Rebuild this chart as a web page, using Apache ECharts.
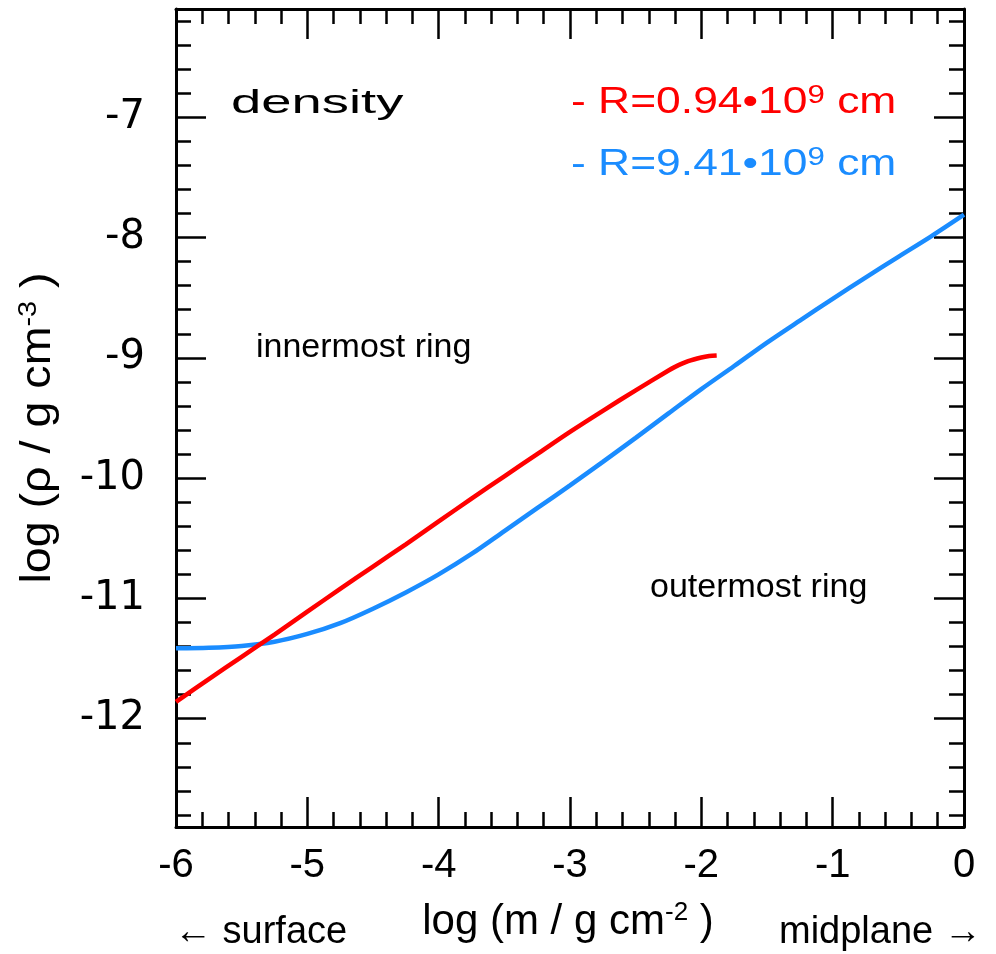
<!DOCTYPE html>
<html>
<head>
<meta charset="utf-8">
<script src="https://cdn.jsdelivr.net/npm/echarts@6/dist/echarts.min.js"></script>
<style>
html, body { margin: 0; padding: 0; background: #ffffff; }
#chart { width: 996px; height: 954px; }
</style>
</head>
<body>
<div id="chart"></div>
<script>
// ---- data ----
const xMajorTicks = [-6, -5, -4, -3, -2, -1, 0];
const yMajorTicks = [-12, -11, -10, -9, -8, -7];
const yMinorTicks = [-12.8, -12.6, -12.4, -12.2, -11.8, -11.6, -11.4, -11.2,
  -10.8, -10.6, -10.4, -10.2, -9.8, -9.6, -9.4, -9.2, -8.8, -8.6, -8.4, -8.2,
  -7.8, -7.6, -7.4, -7.2, -6.8, -6.6, -6.4, -6.2];

// innermost ring, R = 0.94e9 cm
const redX = [-6.0, -5.75, -5.5, -5.25, -5.0, -4.75, -4.5, -4.25, -4.0, -3.75, -3.5,
  -3.25, -3.0, -2.75, -2.5, -2.25, -2.2, -2.1, -2.0, -1.94, -1.883];
const redY = [-11.86, -11.67, -11.485, -11.30, -11.11, -10.92, -10.735, -10.55, -10.36,
  -10.17, -9.985, -9.80, -9.615, -9.44, -9.27, -9.105, -9.075, -9.028, -8.997, -8.985, -8.98];

// outermost ring, R = 9.41e9 cm
const blueX = [-6.0, -5.75, -5.5, -5.25, -5.0, -4.75, -4.5, -4.25, -4.0, -3.75, -3.5,
  -3.25, -3.0, -2.75, -2.5, -2.25, -2.0, -1.75, -1.5, -1.25, -1.0, -0.75, -0.5, -0.25, 0.0];
const blueY = [-11.415, -11.41, -11.395, -11.36, -11.295, -11.205, -11.085, -10.95, -10.80,
  -10.63, -10.44, -10.25, -10.06, -9.865, -9.665, -9.462, -9.26, -9.068, -8.873, -8.69, -8.51,
  -8.333, -8.16, -7.99, -7.81];

const xRange = [-6, 0];
const yRange = [-12.9, -6.1];

const seriesNames = ['R=0.94•10⁹ cm', 'R=9.41•10⁹ cm'];
const RED = '#ff0000';
const BLUE = '#1a8cff';
const FONT = "'Liberation Sans', Arial, Helvetica, sans-serif";
const FONT_Y = "'DejaVu Sans', 'Liberation Sans', sans-serif";

function zip(xs, ys) { return xs.map((x, i) => [x, ys[i]]); }

const chart = echarts.init(document.getElementById('chart'), null, { renderer: 'canvas' });

const lineStyleAxis = { color: '#000', width: 3 };
const tickStyle = { color: '#000', width: 2.5 };

const option = {
  backgroundColor: '#ffffff',
  animation: false,
  grid: { left: 176, right: 32, top: 9, bottom: 127, containLabel: false },
  xAxis: [
    {
      type: 'value', position: 'bottom', min: xRange[0], max: xRange[1], interval: 1,
      axisLine: { show: true, onZero: false, lineStyle: lineStyleAxis },
      axisTick: { show: true, inside: true, length: 30, lineStyle: tickStyle, customValues: xMajorTicks },
      minorTick: { show: true, splitNumber: 5, length: 15, lineStyle: tickStyle },
      splitLine: { show: false }, minorSplitLine: { show: false },
      axisLabel: { show: true, margin: 19, fontSize: 40, color: '#000', fontFamily: FONT,
        customValues: xMajorTicks, formatter: v => String(v) }
    },
    {
      type: 'value', position: 'top', min: xRange[0], max: xRange[1], interval: 1,
      axisLine: { show: true, onZero: false, lineStyle: lineStyleAxis },
      axisTick: { show: true, inside: true, length: 30, lineStyle: tickStyle },
      minorTick: { show: true, splitNumber: 5, length: 15, lineStyle: tickStyle },
      splitLine: { show: false }, axisLabel: { show: false }
    }
  ],
  yAxis: [
    {
      type: 'value', position: 'left', min: yRange[0], max: yRange[1],
      axisLine: { show: true, onZero: false, lineStyle: lineStyleAxis },
      axisTick: { show: true, inside: true, length: 30, lineStyle: tickStyle, customValues: yMajorTicks },
      splitLine: { show: false },
      axisLabel: { show: true, margin: 31, fontSize: 40, color: '#000', fontFamily: FONT_Y,
        customValues: yMajorTicks, formatter: v => String(v) }
    },
    {
      type: 'value', position: 'left', min: yRange[0], max: yRange[1],
      axisLine: { show: false, onZero: false },
      axisTick: { show: true, inside: true, length: 15, lineStyle: tickStyle, customValues: yMinorTicks },
      splitLine: { show: false }, axisLabel: { show: false }
    },
    {
      type: 'value', position: 'right', min: yRange[0], max: yRange[1],
      axisLine: { show: true, onZero: false, lineStyle: lineStyleAxis },
      axisTick: { show: true, inside: true, length: 30, lineStyle: tickStyle, customValues: yMajorTicks },
      splitLine: { show: false }, axisLabel: { show: false }
    },
    {
      type: 'value', position: 'right', min: yRange[0], max: yRange[1],
      axisLine: { show: false, onZero: false },
      axisTick: { show: true, inside: true, length: 15, lineStyle: tickStyle, customValues: yMinorTicks },
      splitLine: { show: false }, axisLabel: { show: false }
    }
  ],
  series: [
    {
      name: seriesNames[0], type: 'line', xAxisIndex: 0, yAxisIndex: 0,
      data: zip(redX, redY), showSymbol: false, smooth: 0.3,
      lineStyle: { color: RED, width: 4.5 }, itemStyle: { color: RED }, z: 3
    },
    {
      name: seriesNames[1], type: 'line', xAxisIndex: 0, yAxisIndex: 0,
      data: zip(blueX, blueY), showSymbol: false, smooth: 0.3,
      lineStyle: { color: BLUE, width: 4.5 }, itemStyle: { color: BLUE }, z: 2
    }
  ],
  graphic: [
    { type: 'text', x: 231, y: 104, scaleX: 1.6,
      style: { text: 'density', fill: '#000', fontSize: 34, fontFamily: FONT,
        align: 'left', verticalAlign: 'middle', textAlign: 'left', textVerticalAlign: 'middle' } },
    { type: 'text', x: 571, y: 103, scaleX: 1.2,
      style: { text: '- R=0.94•10{sup|9} cm', fill: RED, fontSize: 37, fontFamily: FONT, lineHeight: 40,
        align: 'left', verticalAlign: 'middle', textAlign: 'left', textVerticalAlign: 'middle',
        rich: { sup: { fontSize: 26, fill: RED, fontFamily: FONT, verticalAlign: 'top', lineHeight: 16 } } } },
    { type: 'text', x: 571, y: 165, scaleX: 1.2,
      style: { text: '- R=9.41•10{sup|9} cm', fill: BLUE, fontSize: 37, fontFamily: FONT, lineHeight: 40,
        align: 'left', verticalAlign: 'middle', textAlign: 'left', textVerticalAlign: 'middle',
        rich: { sup: { fontSize: 26, fill: BLUE, fontFamily: FONT, verticalAlign: 'top', lineHeight: 16 } } } },
    { type: 'text', x: 256, y: 348,
      style: { text: 'innermost ring', fill: '#000', fontSize: 34, fontFamily: FONT,
        align: 'left', verticalAlign: 'middle', textAlign: 'left', textVerticalAlign: 'middle' } },
    { type: 'text', x: 650, y: 588,
      style: { text: 'outermost ring', fill: '#000', fontSize: 34, fontFamily: FONT,
        align: 'left', verticalAlign: 'middle', textAlign: 'left', textVerticalAlign: 'middle' } },
    { type: 'text', x: 568, y: 922,
      style: { text: 'log (m / g cm{sup|-2} )', fill: '#000', fontSize: 42, fontFamily: FONT, lineHeight: 44,
        align: 'center', verticalAlign: 'middle', textAlign: 'center', textVerticalAlign: 'middle',
        rich: { sup: { fontSize: 26, fill: '#000', fontFamily: FONT, verticalAlign: 'top', lineHeight: 20 } } } },
    { type: 'text', x: 38, y: 428, rotation: Math.PI / 2, scaleX: 1.11,
      style: { text: 'log (ρ / g cm{sup|-3} )', fill: '#000', fontSize: 42, fontFamily: FONT, lineHeight: 44,
        align: 'center', verticalAlign: 'middle', textAlign: 'center', textVerticalAlign: 'middle',
        rich: { sup: { fontSize: 26, fill: '#000', fontFamily: FONT, verticalAlign: 'top', lineHeight: 20 } } } },
    { type: 'text', x: 174, y: 933,
      style: { text: '← surface', fill: '#000', fontSize: 38, fontFamily: FONT,
        align: 'left', verticalAlign: 'middle', textAlign: 'left', textVerticalAlign: 'middle' } },
    { type: 'text', x: 779, y: 933,
      style: { text: 'midplane →', fill: '#000', fontSize: 38, fontFamily: FONT,
        align: 'left', verticalAlign: 'middle', textAlign: 'left', textVerticalAlign: 'middle' } }
  ]
};

chart.setOption(option);
</script>
</body>
</html>
